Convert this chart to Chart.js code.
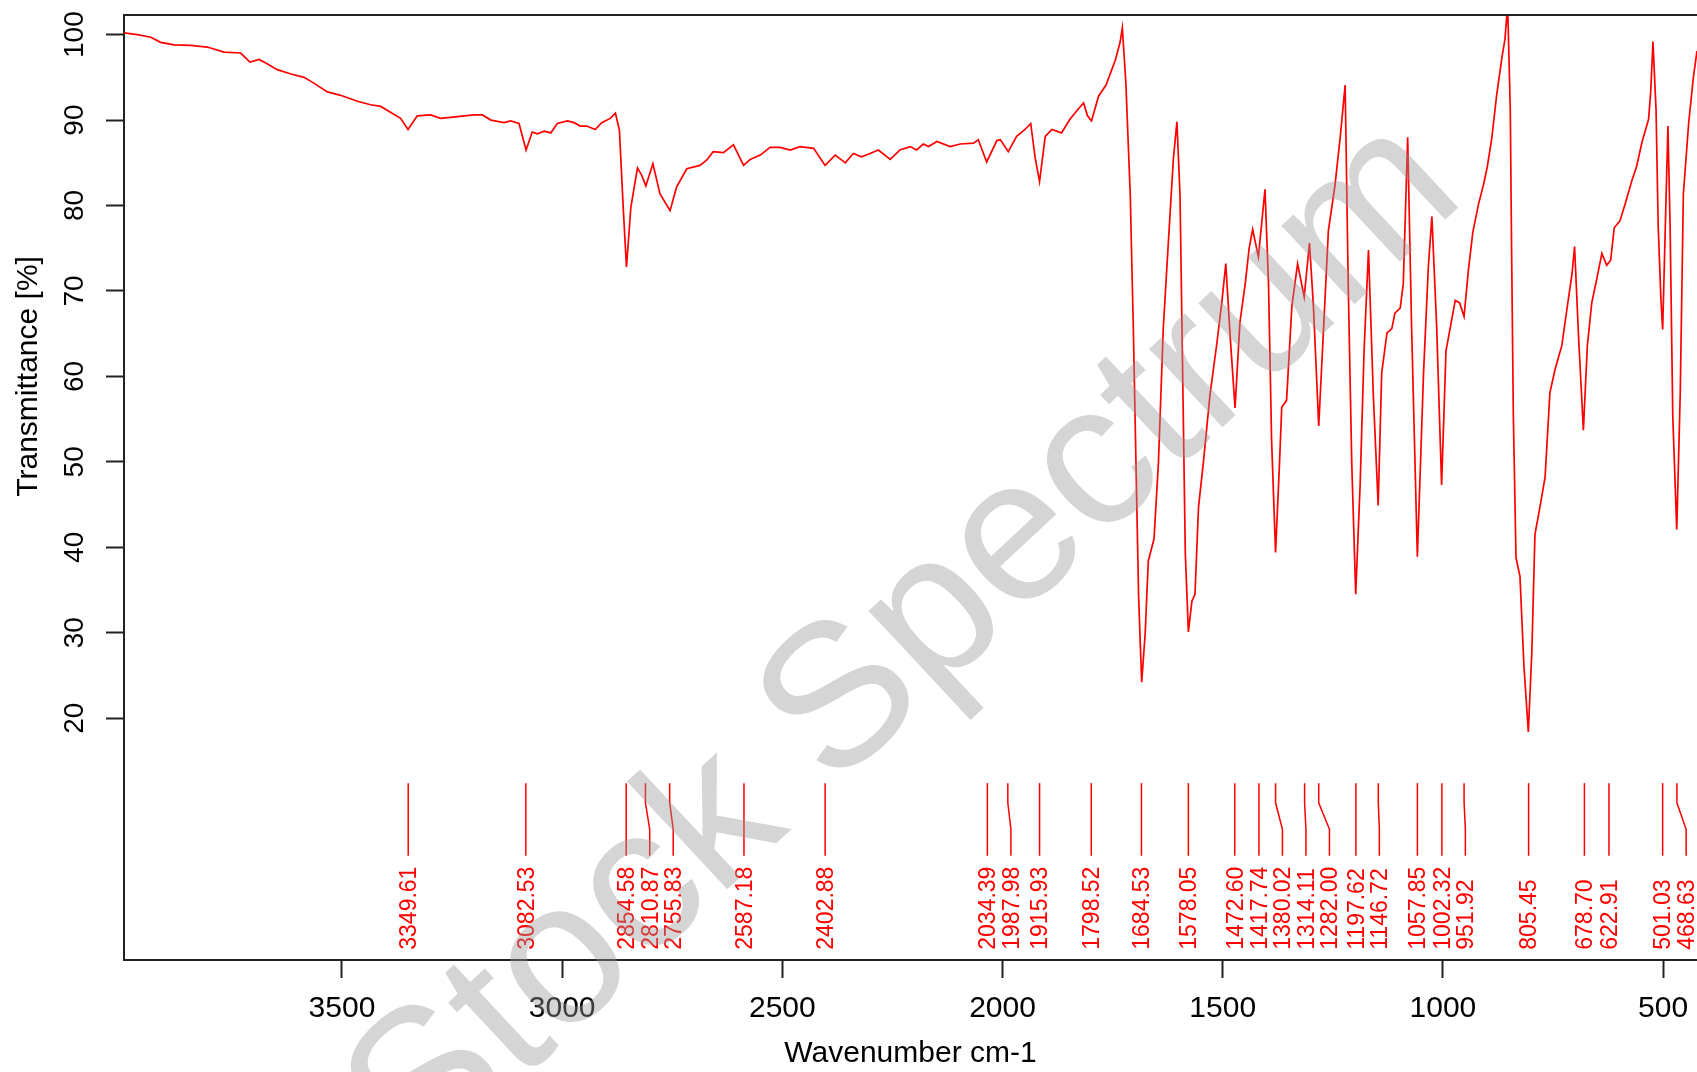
<!DOCTYPE html>
<html lang="en">
<head>
    <meta charset="UTF-8">
    <title>IR Spectrum</title>
    <script src="https://cdn.jsdelivr.net/npm/chart.js"></script>
    <style>
        body { margin: 0; background: #fff; }
        #wrap { width: 1697px; height: 1072px; }
    </style>
</head>
<body>

<div id="wrap">
    <canvas id="spectrum" width="1697" height="1072"></canvas>
</div>

<script>
    // spectrum (wavenumber cm-1 / transmittance %)
    const wavenumbers = [
        3995, 3965, 3934, 3912, 3881, 3844, 3806, 3768, 3730, 3709, 3688, 3670, 3647, 3616, 3586, 3563,
        3533, 3503, 3465, 3435, 3412, 3389, 3367, 3350, 3329, 3299, 3276, 3238, 3200, 3181, 3162, 3132,
        3117, 3098, 3082, 3068, 3056, 3041, 3026, 3011, 2988, 2973, 2959, 2944, 2925, 2910, 2891, 2879,
        2870, 2861, 2854, 2844, 2829, 2819, 2810, 2794, 2778, 2755, 2740, 2717, 2687, 2672, 2657, 2634,
        2611, 2588, 2573, 2550, 2528, 2505, 2482, 2460, 2429, 2403, 2380, 2357, 2339, 2320, 2301, 2282,
        2255, 2233, 2210, 2195, 2180, 2168, 2149, 2119, 2096, 2066, 2055, 2036, 2013, 2005, 1987, 1968,
        1949, 1936, 1926, 1916, 1903, 1888, 1866, 1847, 1828, 1816, 1807, 1798, 1782, 1765, 1744, 1733,
        1728, 1720, 1710, 1703, 1697, 1691, 1684, 1676, 1669, 1656, 1646, 1635, 1623, 1612, 1604, 1597,
        1591, 1585, 1578, 1570, 1563, 1555, 1544, 1529, 1513, 1502, 1493, 1483, 1472, 1461, 1449, 1440,
        1432, 1419, 1404, 1396, 1389, 1380, 1371, 1366, 1355, 1343, 1330, 1315, 1303, 1294, 1282, 1271,
        1260, 1245, 1233, 1222, 1215, 1207, 1198, 1188, 1179, 1169, 1158, 1147, 1139, 1127, 1116, 1109,
        1097, 1090, 1080, 1071, 1058, 1044, 1033, 1025, 1014, 1003, 993, 984, 972, 962, 952, 942,
        932, 919, 908, 899, 889, 878, 866, 859, 853, 847, 844, 840, 834, 825, 816, 806,
        798, 791, 779, 768, 757, 745, 730, 715, 707, 701, 692, 681, 672, 662, 651, 639,
        628, 619, 611, 598, 586, 571, 560, 548, 533, 528, 523, 516, 511, 505, 501, 495,
        489, 484, 478, 469, 461, 454, 442, 431, 423
    ];
    const transmittance = [
        100.2, 100.0, 99.7, 99.1, 98.8, 98.75, 98.55, 97.95, 97.85, 96.8, 97.1, 96.6, 95.9, 95.4, 95.0, 94.3,
        93.3, 92.9, 92.2, 91.8, 91.6, 90.9, 90.2, 88.9, 90.5, 90.6, 90.2, 90.4, 90.6, 90.6, 90.0, 89.7,
        89.9, 89.6, 86.5, 88.6, 88.4, 88.7, 88.5, 89.6, 89.9, 89.7, 89.3, 89.3, 88.9, 89.7, 90.2, 90.8,
        88.8, 79.4, 72.8, 79.8, 84.4, 83.5, 82.3, 84.9, 81.4, 79.4, 82.2, 84.3, 84.7, 85.3, 86.3, 86.2,
        87.1, 84.7, 85.4, 85.9, 86.8, 86.8, 86.5, 86.9, 86.7, 84.7, 85.9, 85.0, 86.1, 85.7, 86.1, 86.5,
        85.4, 86.5, 86.9, 86.5, 87.2, 86.9, 87.5, 86.9, 87.2, 87.3, 87.7, 85.1, 87.6, 87.7, 86.3, 88.1,
        88.9, 89.6, 85.6, 82.8, 88.1, 88.9, 88.5, 90.1, 91.3, 92.0, 90.5, 89.9, 92.8, 94.1, 97.0, 99.1,
        100.8, 94.4, 81.3, 65.6, 49.9, 34.2, 24.2, 30.0, 38.4, 41.0, 49.9, 65.6, 76.1, 85.5, 89.8, 81.3,
        60.4, 39.4, 30.1, 33.7, 34.5, 44.7, 49.9, 57.8, 64.0, 68.7, 73.2, 64.6, 56.3, 66.3, 70.8, 75.0,
        77.2, 74.0, 81.9, 70.8, 52.5, 39.4, 49.9, 56.4, 57.2, 68.2, 73.2, 69.3, 75.6, 68.2, 54.2, 65.6,
        77.1, 82.4, 88.1, 94.1, 70.8, 49.9, 34.5, 47.3, 63.0, 74.8, 57.8, 44.9, 60.4, 65.1, 65.6, 67.4,
        68.0, 70.8, 88.0, 65.6, 38.9, 60.4, 72.9, 78.7, 65.6, 47.3, 63.0, 65.5, 68.9, 68.6, 67.0, 72.5,
        76.9, 80.2, 82.4, 84.6, 87.9, 92.9, 97.3, 99.5, 103.5, 91.2, 74.7, 55.3, 38.8, 36.6, 26.1, 18.4,
        27.8, 41.5, 44.9, 48.2, 58.1, 60.9, 63.6, 69.1, 71.9, 75.2, 64.7, 53.7, 63.6, 68.6, 71.3, 74.4,
        73.0, 73.6, 77.4, 78.2, 80.2, 82.9, 84.6, 87.4, 90.1, 93.4, 99.2, 91.2, 77.4, 69.1, 65.5, 77.4,
        89.3, 77.4, 55.3, 42.1, 58.1, 81.3, 89.6, 95.1, 98.1
    ];

    // picked peaks
    const peakPositions = [
        3349.61, 3082.53, 2854.58, 2810.87, 2755.83, 2587.18, 2402.88, 2034.39, 1987.98, 1915.93,
        1798.52, 1684.53, 1578.05, 1472.60, 1417.74, 1380.02, 1314.11, 1282.00, 1197.62, 1146.72,
        1057.85, 1002.32, 951.92, 805.45, 678.70, 622.91, 501.03, 468.63
    ];
    const peakLabels = [
        '3349.61', '3082.53', '2854.58', '2810.87', '2755.83', '2587.18', '2402.88', '2034.39', '1987.98', '1915.93',
        '1798.52', '1684.53', '1578.05', '1472.60', '1417.74', '1380.02', '1314.11', '1282.00', '1197.62', '1146.72',
        '1057.85', '1002.32', '951.92', '805.45', '678.70', '622.91', '501.03', '468.63'
    ];

    const xTickValues = [500, 1000, 1500, 2000, 2500, 3000, 3500];
    const yTickValues = [20, 30, 40, 50, 60, 70, 80, 90, 100];

    const FONT = '"Liberation Sans", Arial, Helvetica, sans-serif';
    const RED = '#ff0000';
    const AXIS = '#222';

    // peak sticks + labels under the curve
    const peakMarks = {
        id: 'peakMarks',
        afterDatasetsDraw(chart) {
            const ctx = chart.ctx;
            const xs = chart.scales.x, ys = chart.scales.y;
            const yTop = ys.getPixelForValue(12.4);
            const yBend1 = ys.getPixelForValue(10.1);
            const yBend2 = ys.getPixelForValue(7.0);
            const yBottom = ys.getPixelForValue(3.9);
            const yText = ys.getPixelForValue(-7.1);
            const minGap = 23.5;

            let prev = -Infinity;
            ctx.save();
            ctx.strokeStyle = RED;
            ctx.fillStyle = RED;
            ctx.lineWidth = 1.5;
            ctx.font = '23px ' + FONT;
            peakPositions.forEach((p, i) => {
                const px = xs.getPixelForValue(p);
                const lx = Math.max(px, prev + minGap);
                prev = lx;
                ctx.beginPath();
                ctx.moveTo(px, yTop);
                ctx.lineTo(px, yBend1);
                ctx.lineTo(lx, yBend2);
                ctx.lineTo(lx, yBottom);
                ctx.stroke();

                ctx.save();
                ctx.translate(lx + 1.5, yText);
                ctx.rotate(-Math.PI / 2);
                ctx.textAlign = 'left';
                ctx.textBaseline = 'middle';
                ctx.fillText(peakLabels[i], 0, 0);
                ctx.restore();
            });
            ctx.restore();
        }
    };

    // top frame line and the y title (centred on the labelled range)
    const frame = {
        id: 'frame',
        afterDraw(chart) {
            const ctx = chart.ctx;
            const a = chart.chartArea;
            ctx.save();
            ctx.strokeStyle = AXIS;
            ctx.lineWidth = 2;
            ctx.beginPath();
            ctx.moveTo(a.left - 1, a.top);
            ctx.lineTo(a.right, a.top);
            ctx.stroke();

            const ys = chart.scales.y;
            const mid = (yTickValues[0] + yTickValues[yTickValues.length - 1]) / 2;
            ctx.translate(29, ys.getPixelForValue(mid));
            ctx.rotate(-Math.PI / 2);
            ctx.fillStyle = '#000';
            ctx.font = '30px ' + FONT;
            ctx.textAlign = 'center';
            ctx.textBaseline = 'middle';
            ctx.fillText('Transmittance [%]', 0, 0);
            ctx.restore();
        }
    };

    const watermark = {
        id: 'watermark',
        afterDraw(chart) {
            const ctx = chart.ctx;
            ctx.save();
            ctx.translate(944, 687);
            ctx.rotate(-43 * Math.PI / 180);
            ctx.font = '203px ' + FONT;
            ctx.fillStyle = 'rgba(150, 150, 150, 0.4)';
            ctx.textAlign = 'center';
            ctx.textBaseline = 'alphabetic';
            ctx.fillText('Stock Spectrum', 0, 0);
            ctx.restore();
        }
    };

    function drawSpectrum() {
        const ctx = document.getElementById('spectrum').getContext('2d');
        new Chart(ctx, {
            type: 'line',
            data: {
                datasets: [{
                    data: wavenumbers.map((w, i) => ({ x: w, y: transmittance[i] })),
                    borderColor: RED,
                    borderWidth: 1.7,
                    pointRadius: 0,
                    tension: 0,
                    fill: false
                }]
            },
            options: {
                responsive: false,
                animation: false,
                parsing: false,
                layout: { padding: { top: 15, left: 0, right: 0, bottom: 0 } },
                plugins: {
                    legend: { display: false },
                    tooltip: { enabled: false }
                },
                scales: {
                    x: {
                        type: 'linear',
                        reverse: true,
                        min: 423,
                        max: 3995,
                        afterBuildTicks: s => { s.ticks = xTickValues.map(v => ({ value: v })); },
                        afterFit: s => { s.height = 112; s.paddingLeft = 0; s.paddingRight = 0; },
                        ticks: {
                            minRotation: 0,
                            maxRotation: 0,
                            padding: 13,
                            color: '#000',
                            font: { family: FONT, size: 30 },
                            callback: v => String(v)
                        },
                        grid: { drawOnChartArea: false, tickLength: 18, tickWidth: 2, color: AXIS },
                        border: { display: true, width: 2, color: AXIS },
                        title: {
                            display: true,
                            text: 'Wavenumber cm-1',
                            color: '#000',
                            font: { family: FONT, size: 30 },
                            padding: { top: 0, bottom: 0 }
                        }
                    },
                    y: {
                        type: 'linear',
                        min: -8.3,
                        max: 102.3,
                        afterBuildTicks: s => { s.ticks = yTickValues.map(v => ({ value: v })); },
                        afterFit: s => { s.width = 124; s.paddingTop = 0; s.paddingBottom = 0; },
                        ticks: {
                            minRotation: 90,
                            maxRotation: 90,
                            crossAlign: 'center',
                            padding: 7,
                            color: '#000',
                            font: { family: FONT, size: 28 },
                            callback: v => String(v)
                        },
                        grid: { drawOnChartArea: false, tickLength: 18, tickWidth: 2, color: AXIS },
                        border: { display: true, width: 2, color: AXIS }
                    }
                }
            },
            plugins: [peakMarks, frame, watermark]
        });
    }

    window.addEventListener('load', drawSpectrum);
</script>

</body>
</html>
